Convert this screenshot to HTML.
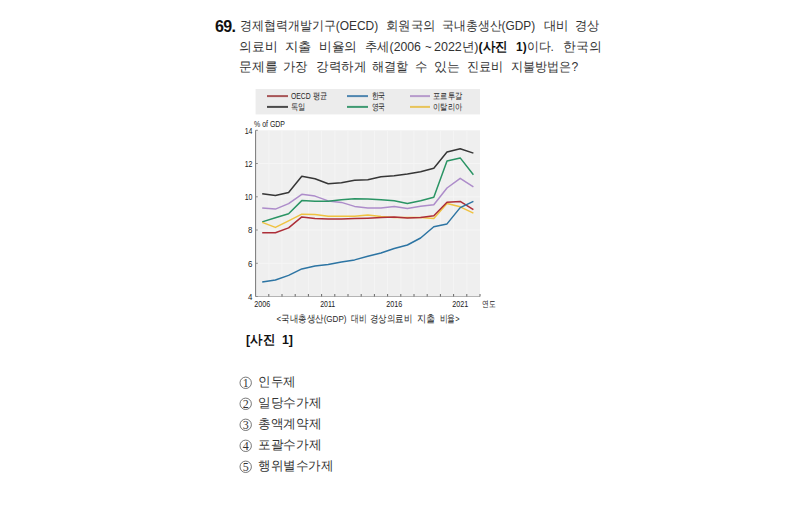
<!DOCTYPE html>
<html><head><meta charset="utf-8">
<style>
html,body{margin:0;padding:0;background:#fff;width:800px;height:513px;overflow:hidden}
body{font-family:"Liberation Sans",sans-serif;color:#222;position:relative}
.w{position:absolute;font-size:13px;line-height:22px;white-space:nowrap;color:#333;transform-origin:0 0}
.w b{color:#111}
.w i{font-style:normal}
.num{position:absolute;left:215px;top:16px;font-size:16px;font-weight:bold;line-height:22px;color:#111;letter-spacing:-0.6px}
.cap{position:absolute;left:247px;top:329px;font-size:13px;font-weight:bold;line-height:22px;color:#111;word-spacing:3px}
.c{position:absolute}
svg.ch{position:absolute;left:0;top:0}
</style></head><body>
<div class="num">69.</div>
<span class="w" id="a1" style="left:239.51px;top:15px;transform:scaleX(0.9202)">경제협력개발기구<i>(OECD)</i></span><span class="w" id="a2" style="left:385.59px;top:15px;transform:scaleX(0.9520)">회원국의</span><span class="w" id="a3" style="left:442.37px;top:15px;transform:scaleX(0.9143)">국내총생산<i>(GDP)</i></span><span class="w" id="a4" style="left:543.54px;top:15px;transform:scaleX(0.9545)">대비</span><span class="w" id="a5" style="left:575.19px;top:15px;transform:scaleX(0.9375)">경상</span><span class="w" id="b1" style="left:239.43px;top:36px;transform:scaleX(0.9837)">의료비</span><span class="w" id="b2" style="left:285.41px;top:36px;transform:scaleX(1.0296)">지출</span><span class="w" id="b3" style="left:319.33px;top:36px;transform:scaleX(0.9784)">비율의</span><span class="w" id="b4" style="left:364.89px;top:36px;transform:scaleX(0.9443)">추세(2006</span><span class="w" id="b5" style="left:425.20px;top:36px;transform:scaleX(0.8800)">~</span><span class="w" id="b6" style="left:434.06px;top:36px;transform:scaleX(0.9610)">2022년)<b>(사진</b></span><span class="w" id="b7" style="left:516.08px;top:36px;transform:scaleX(0.9164)"><b>1)</b>이다.</span><span class="w" id="b8" style="left:562.57px;top:36px;transform:scaleX(0.9867)">한국의</span><span class="w" id="c1" style="left:239.46px;top:56px;transform:scaleX(0.9822)">문제를</span><span class="w" id="c2" style="left:283.37px;top:56px;transform:scaleX(0.9479)">가장</span><span class="w" id="c3" style="left:315.73px;top:56px;transform:scaleX(0.9635)">강력하게</span><span class="w" id="c4" style="left:372.08px;top:56px;transform:scaleX(0.9377)">해결할</span><span class="w" id="c5" style="left:415.45px;top:56px;transform:scaleX(0.9492)">수</span><span class="w" id="c6" style="left:434.43px;top:56px;transform:scaleX(0.9948)">있는</span><span class="w" id="c7" style="left:466.88px;top:56px;transform:scaleX(0.9302)">진료비</span><span class="w" id="c8" style="left:510.62px;top:56px;transform:scaleX(0.9296)">지불방법은?</span><span class="w" id="cap" style="left:246.11px;top:329px;transform:scaleX(0.9564)"><b>[사진&nbsp;&nbsp;1]</b></span><span class="w" id="o1" style="left:258.19px;top:371px;transform:scaleX(0.9642)">인두제</span><span class="w" id="o2" style="left:258.16px;top:392px;transform:scaleX(0.9761)">일당수가제</span><span class="w" id="o3" style="left:258.17px;top:413px;transform:scaleX(0.9742)">총액계약제</span><span class="w" id="o4" style="left:258.16px;top:434px;transform:scaleX(0.9761)">포괄수가제</span><span class="w" id="o5" style="left:258.15px;top:455px;transform:scaleX(0.9642)">행위별수가제</span>
<svg class="ch" width="800" height="513" viewBox="0 0 800 513">
<rect x="255.6" y="89" width="224.4" height="25.4" fill="#ececec"/>
<g stroke-width="2" fill="none">
<line x1="267" y1="96.1" x2="288" y2="96.1" stroke="#a85557"/>
<line x1="267" y1="106.9" x2="288" y2="106.9" stroke="#4a4a4a"/>
<line x1="347" y1="96.1" x2="368" y2="96.1" stroke="#4f86b0"/>
<line x1="347" y1="106.9" x2="368" y2="106.9" stroke="#3f9a72"/>
<line x1="410" y1="96.1" x2="430" y2="96.1" stroke="#b79bcc"/>
<line x1="410" y1="106.9" x2="430" y2="106.9" stroke="#e8c45a"/>
</g>
<g font-family="Liberation Sans, sans-serif" font-size="8.5" fill="#262626" lengthAdjust="spacingAndGlyphs">
<text x="291" y="99.3" textLength="36" lengthAdjust="spacingAndGlyphs">OECD 평균</text>
<text x="291" y="110.3" textLength="14.5" lengthAdjust="spacingAndGlyphs">독일</text>
<text x="371.5" y="99.3" textLength="13.8" lengthAdjust="spacingAndGlyphs">한국</text>
<text x="371.5" y="110.3" textLength="13.5" lengthAdjust="spacingAndGlyphs">영국</text>
<text x="433" y="99.3" textLength="29" lengthAdjust="spacingAndGlyphs">포르투갈</text>
<text x="433" y="110.3" textLength="29" lengthAdjust="spacingAndGlyphs">이탈리아</text>
</g>
<rect x="255.6" y="130.3" width="224.4" height="166.2" fill="#efefef"/>
<g stroke="#f4f4f4" stroke-width="1"><line x1="268.8" y1="130.3" x2="268.8" y2="296.5" /><line x1="282.0" y1="130.3" x2="282.0" y2="296.5" /><line x1="295.2" y1="130.3" x2="295.2" y2="296.5" /><line x1="308.4" y1="130.3" x2="308.4" y2="296.5" /><line x1="321.6" y1="130.3" x2="321.6" y2="296.5" /><line x1="334.8" y1="130.3" x2="334.8" y2="296.5" /><line x1="348.0" y1="130.3" x2="348.0" y2="296.5" /><line x1="361.2" y1="130.3" x2="361.2" y2="296.5" /><line x1="374.4" y1="130.3" x2="374.4" y2="296.5" /><line x1="387.6" y1="130.3" x2="387.6" y2="296.5" /><line x1="400.8" y1="130.3" x2="400.8" y2="296.5" /><line x1="414.0" y1="130.3" x2="414.0" y2="296.5" /><line x1="427.2" y1="130.3" x2="427.2" y2="296.5" /><line x1="440.4" y1="130.3" x2="440.4" y2="296.5" /><line x1="453.6" y1="130.3" x2="453.6" y2="296.5" /><line x1="466.8" y1="130.3" x2="466.8" y2="296.5" /></g>
<g stroke="#f5f5f5" stroke-width="1"><line x1="255.6" y1="263.3" x2="480" y2="263.3" /><line x1="255.6" y1="230.0" x2="480" y2="230.0" /><line x1="255.6" y1="196.8" x2="480" y2="196.8" /><line x1="255.6" y1="163.5" x2="480" y2="163.5" /></g>
<g fill="none" stroke-width="1">
<path d="M255.6 296.5 H480" stroke="#b4b4b4"/>
<path d="M255.6 130.3 V296.5" stroke="#777"/>
<g stroke="#666"><line x1="268.8" y1="296.5" x2="268.8" y2="294" /><line x1="282.0" y1="296.5" x2="282.0" y2="294" /><line x1="295.2" y1="296.5" x2="295.2" y2="294" /><line x1="308.4" y1="296.5" x2="308.4" y2="294" /><line x1="321.6" y1="296.5" x2="321.6" y2="294" /><line x1="334.8" y1="296.5" x2="334.8" y2="294" /><line x1="348.0" y1="296.5" x2="348.0" y2="294" /><line x1="361.2" y1="296.5" x2="361.2" y2="294" /><line x1="374.4" y1="296.5" x2="374.4" y2="294" /><line x1="387.6" y1="296.5" x2="387.6" y2="294" /><line x1="400.8" y1="296.5" x2="400.8" y2="294" /><line x1="414.0" y1="296.5" x2="414.0" y2="294" /><line x1="427.2" y1="296.5" x2="427.2" y2="294" /><line x1="440.4" y1="296.5" x2="440.4" y2="294" /><line x1="453.6" y1="296.5" x2="453.6" y2="294" /><line x1="466.8" y1="296.5" x2="466.8" y2="294" /><line x1="480.0" y1="296.5" x2="480.0" y2="294" /></g><g stroke="#888"><line x1="255.6" y1="296.5" x2="257.8" y2="296.5" /><line x1="255.6" y1="263.3" x2="257.8" y2="263.3" /><line x1="255.6" y1="230.0" x2="257.8" y2="230.0" /><line x1="255.6" y1="196.8" x2="257.8" y2="196.8" /><line x1="255.6" y1="163.5" x2="257.8" y2="163.5" /><line x1="255.6" y1="130.3" x2="257.8" y2="130.3" /></g>
</g>
<g stroke-width="1.5" fill="none" stroke-linejoin="round"><path d="M262.2 207.9 L275.4 209.1 L288.6 203.6 L301.8 194.3 L315.0 196.1 L328.2 200.9 L341.4 202.4 L354.6 206.4 L367.8 207.9 L381.0 207.9 L394.2 206.6 L407.4 208.4 L420.6 206.3 L433.8 204.8 L447.0 188.0 L460.2 178.3 L473.4 186.8" stroke="#ad8cca" />
<path d="M262.2 193.8 L275.4 195.6 L288.6 192.5 L301.8 176.2 L315.0 178.7 L328.2 183.8 L341.4 182.7 L354.6 180.3 L367.8 179.7 L381.0 176.8 L394.2 175.7 L407.4 174.0 L420.6 171.8 L433.8 168.2 L447.0 152.1 L460.2 148.7 L473.4 153.1" stroke="#363636" />
<path d="M262.2 221.9 L275.4 217.7 L288.6 213.7 L301.8 200.6 L315.0 201.3 L328.2 201.3 L341.4 199.8 L354.6 198.8 L367.8 198.9 L381.0 199.8 L394.2 200.8 L407.4 203.4 L420.6 200.8 L433.8 197.3 L447.0 161.0 L460.2 157.9 L473.4 174.7" stroke="#2a9464" />
<path d="M262.2 222.4 L275.4 227.4 L288.6 220.9 L301.8 214.2 L315.0 214.6 L328.2 216.2 L341.4 216.2 L354.6 216.2 L367.8 214.9 L381.0 216.6 L394.2 217.6 L407.4 217.6 L420.6 217.6 L433.8 218.4 L447.0 203.6 L460.2 206.8 L473.4 213.2" stroke="#efc241" />
<path d="M262.2 232.8 L275.4 232.8 L288.6 227.9 L301.8 216.9 L315.0 218.6 L328.2 219.1 L341.4 218.9 L354.6 218.6 L367.8 218.2 L381.0 217.6 L394.2 216.9 L407.4 218.1 L420.6 217.6 L433.8 215.7 L447.0 202.3 L460.2 201.4 L473.4 209.7" stroke="#ad2e38" />
<path d="M262.2 281.9 L275.4 280.0 L288.6 275.4 L301.8 268.9 L315.0 266.1 L328.2 264.4 L341.4 261.9 L354.6 259.9 L367.8 256.3 L381.0 253.0 L394.2 248.5 L407.4 245.0 L420.6 238.0 L433.8 226.7 L447.0 223.9 L460.2 207.6 L473.4 201.4" stroke="#2c74a3" /></g>
<g font-family="Liberation Sans, sans-serif" font-size="9" fill="#222">
<text x="254" y="126.8" font-size="8.5" textLength="31" lengthAdjust="spacingAndGlyphs">% of GDP</text>
<text x="248.1" y="299.7" textLength="4.4" lengthAdjust="spacingAndGlyphs">4</text><text x="248.1" y="266.5" textLength="4.4" lengthAdjust="spacingAndGlyphs">6</text><text x="248.1" y="233.2" textLength="4.4" lengthAdjust="spacingAndGlyphs">8</text><text x="244.7" y="200.0" textLength="7.8" lengthAdjust="spacingAndGlyphs">10</text><text x="244.7" y="166.7" textLength="7.8" lengthAdjust="spacingAndGlyphs">12</text><text x="244.7" y="133.5" textLength="7.8" lengthAdjust="spacingAndGlyphs">14</text> <text x="254.2" y="307" textLength="16.0" lengthAdjust="spacingAndGlyphs">2006</text><text x="320.2" y="307" textLength="15.0" lengthAdjust="spacingAndGlyphs">2011</text><text x="386.2" y="307" textLength="16.0" lengthAdjust="spacingAndGlyphs">2016</text><text x="452.2" y="307" textLength="16.0" lengthAdjust="spacingAndGlyphs">2021</text>
<text x="482" y="307" font-size="8.5" textLength="13.5" lengthAdjust="spacingAndGlyphs">연도</text>
</g>
<g font-family="Liberation Sans, sans-serif" font-size="9.5" fill="#262626">
<text x="276.5" y="321.5" textLength="70" lengthAdjust="spacingAndGlyphs">&lt;국내총생산(GDP)</text>
<text x="350.8" y="321.5" textLength="15.6" lengthAdjust="spacingAndGlyphs">대비</text>
<text x="370" y="321.5" textLength="42.3" lengthAdjust="spacingAndGlyphs">경상의료비</text>
<text x="416.6" y="321.5" textLength="18.5" lengthAdjust="spacingAndGlyphs">지출</text>
<text x="439.5" y="321.5" textLength="20" lengthAdjust="spacingAndGlyphs">비율&gt;</text>
</g>
</svg>

<svg class="c" style="left:239px;top:376px" width="14" height="14" viewBox="0 0 14 14"><circle cx="6.7" cy="6.8" r="5.7" fill="none" stroke="#555" stroke-width="0.8"/><text x="6.75" y="10.9" text-anchor="middle" font-family="Liberation Serif, serif" font-size="12" fill="#333">1</text></svg><svg class="c" style="left:239px;top:397px" width="14" height="14" viewBox="0 0 14 14"><circle cx="6.7" cy="6.8" r="5.7" fill="none" stroke="#555" stroke-width="0.8"/><text x="6.75" y="10.9" text-anchor="middle" font-family="Liberation Serif, serif" font-size="12" fill="#333">2</text></svg><svg class="c" style="left:239px;top:418px" width="14" height="14" viewBox="0 0 14 14"><circle cx="6.7" cy="6.8" r="5.7" fill="none" stroke="#555" stroke-width="0.8"/><text x="6.75" y="10.9" text-anchor="middle" font-family="Liberation Serif, serif" font-size="12" fill="#333">3</text></svg><svg class="c" style="left:239px;top:439px" width="14" height="14" viewBox="0 0 14 14"><circle cx="6.7" cy="6.8" r="5.7" fill="none" stroke="#555" stroke-width="0.8"/><text x="6.75" y="10.9" text-anchor="middle" font-family="Liberation Serif, serif" font-size="12" fill="#333">4</text></svg><svg class="c" style="left:239px;top:460px" width="14" height="14" viewBox="0 0 14 14"><circle cx="6.7" cy="6.8" r="5.7" fill="none" stroke="#555" stroke-width="0.8"/><text x="6.75" y="10.9" text-anchor="middle" font-family="Liberation Serif, serif" font-size="12" fill="#333">5</text></svg>
</body></html>
